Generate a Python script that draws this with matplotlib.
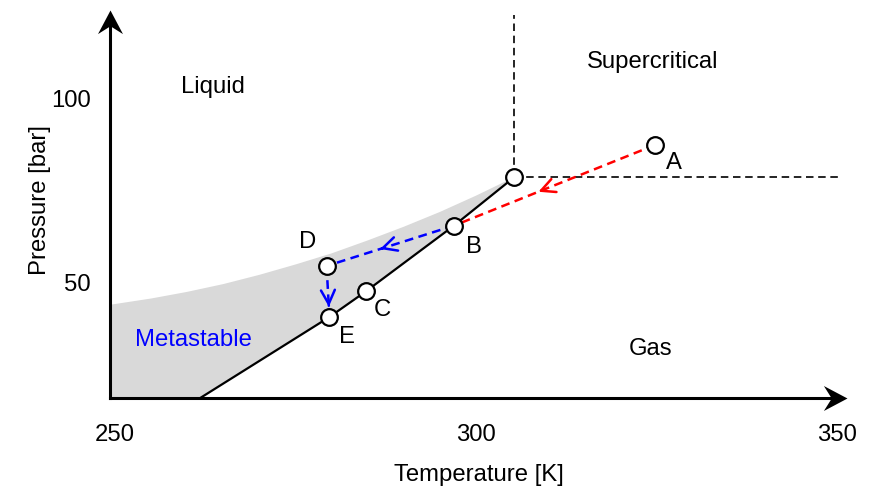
import numpy as np
import matplotlib
matplotlib.use('Agg')
import matplotlib.pyplot as plt
from matplotlib.path import Path

plt.rcParams['font.family'] = ['Liberation Sans', 'DejaVu Sans']

# axis ranges and ticks
t_min, t_max = 249.3, 351.4
p_min, p_max = 18.9, 123.8
x_ticks = [250, 300, 350]
y_ticks = [50, 100]

# critical point
t_crit, p_crit = 305.3, 78.6

# coexistence (saturation) line
t_sat = [261.8, 279.7, 284.8, 296.95, 305.3]
p_sat = [18.9, 40.8, 47.8, 65.5, 78.6]

# upper edge of the metastable region
t_spin = [249.3, 255, 260, 265, 270, 275, 280, 285, 290, 295, 300, 305.3]
p_spin = [44.1, 45.8, 47.6, 49.7, 52.2, 55.0, 58.0, 61.5, 65.2, 69.2, 73.6, 78.6]

# state points
pt_names = ['A', 'B', 'C', 'D', 'E']
pt_t = [324.8, 296.95, 284.8, 279.3, 279.7]
pt_p = [87.3, 65.5, 47.8, 54.6, 40.8]
lbl_t = [327.4, 299.7, 287.0, 276.7, 282.1]
lbl_p = [82.4, 59.7, 42.7, 61.1, 35.4]

fs = 17.2
fig = plt.figure(figsize=(8.71, 4.90), dpi=100)
ax = fig.add_axes([110/871, 92/490, 737/871, 388/490])
ax.set_xlim(t_min, t_max)
ax.set_ylim(p_min, p_max)
for s in ax.spines.values():
    s.set_visible(False)

# metastable shading
fill_t = t_spin + t_sat[::-1] + [t_min]
fill_p = p_spin + p_sat[::-1] + [p_min]
ax.fill(fill_t, fill_p, color='#d9d9d9', lw=0, zorder=1)

# saturation line
ax.plot(t_sat, p_sat, color='black', lw=1.6, zorder=3)

# critical isotherm / isobar
ax.plot([t_crit, t_crit], [p_crit, 122.4], color='black', lw=1.2, dashes=(4.5, 2.8), zorder=2)
ax.plot([t_crit, 350.1], [p_crit, p_crit], color='black', lw=1.2, dashes=(4.5, 2.8), zorder=2)


def dashed_arrow(i, j, col, frac):
    t0, p0 = pt_t[i], pt_p[i]
    t1, p1 = pt_t[j], pt_p[j]
    ax.plot([t0, t1], [p0, p1], color=col, lw=1.8, dashes=(3.5, 2.2), zorder=3)
    tip = (t0 + frac*(t1 - t0), p0 + frac*(p1 - p0))
    tail = (t0 + (frac - 0.02)*(t1 - t0), p0 + (frac - 0.02)*(p1 - p0))
    ax.annotate('', xy=tip, xytext=tail,
                arrowprops=dict(arrowstyle='->, head_length=1.0, head_width=0.5',
                                color=col, lw=1.8, shrinkA=0, shrinkB=0,
                                mutation_scale=10), zorder=4)


dashed_arrow(0, 1, '#ff0000', 0.58)
dashed_arrow(1, 3, '#0000ff', 0.58)
dashed_arrow(3, 4, '#0000ff', 0.8)

# points
ax.plot(pt_t, pt_p, 'o', ms=12, mfc='white', mec='black', mew=1.6, zorder=5)
ax.plot([t_crit], [p_crit], 'o', ms=12, mfc='white', mec='black', mew=1.6, zorder=5)
for n, tx, py in zip(pt_names, lbl_t, lbl_p):
    ax.text(tx, py, n, fontsize=fs, ha='center', va='center', zorder=6)

# region labels
ax.text(263.6, 103.0, 'Liquid', fontsize=fs, ha='center', va='center')
ax.text(324.5, 109.7, 'Supercritical', fontsize=fs, ha='center', va='center')
ax.text(324.2, 32.2, 'Gas', fontsize=fs, ha='center', va='center')
ax.text(260.8, 34.6, 'Metastable', fontsize=fs, ha='center', va='center', color='#0000ff')

# axes lines with stealth arrow heads
ax.plot([0, 0.985], [0, 0], color='black', lw=2.2, transform=ax.transAxes, clip_on=False)
ax.plot([0, 0], [0, 0.975], color='black', lw=2.2, transform=ax.transAxes, clip_on=False)
head_up = Path([(0, 0), (-12.7, -24), (0, -16), (12.7, -24), (0, 0)],
               [Path.MOVETO, Path.LINETO, Path.LINETO, Path.LINETO, Path.CLOSEPOLY])
head_right = Path([(0, 0), (-24, 12.7), (-16, 0), (-24, -12.7), (0, 0)],
                  [Path.MOVETO, Path.LINETO, Path.LINETO, Path.LINETO, Path.CLOSEPOLY])
ax.plot([0], [1], marker=head_up, ms=34, color='black', mew=0,
        transform=ax.transAxes, clip_on=False)
ax.plot([1], [0], marker=head_right, ms=34, color='black', mew=0,
        transform=ax.transAxes, clip_on=False)

ax.set_xticks(x_ticks)
ax.set_yticks(y_ticks)
ax.tick_params(length=0, labelsize=fs)
ax.tick_params(axis='x', pad=19)
ax.tick_params(axis='y', pad=14)
ax.set_xlabel('Temperature [K]', fontsize=fs, labelpad=13)
ax.set_ylabel('Pressure [bar]', fontsize=fs)
ax.yaxis.set_label_coords(-0.08, 0.51)

fig.savefig('out.png', dpi=100)
